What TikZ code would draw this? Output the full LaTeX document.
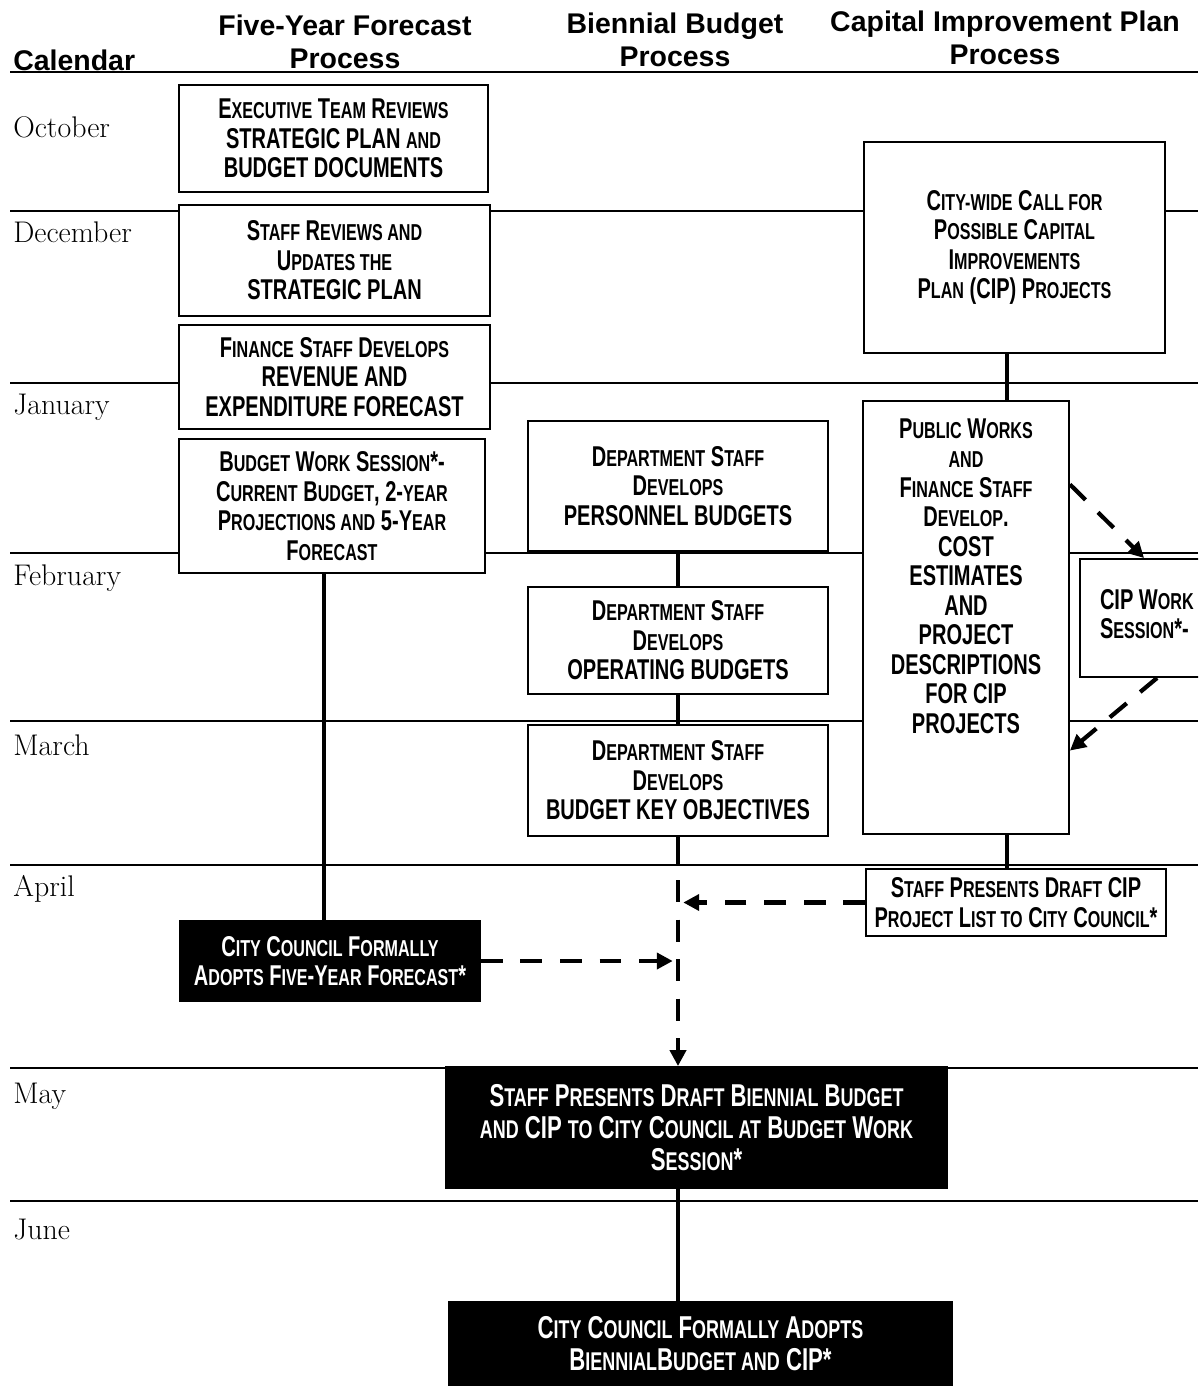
\documentclass[tikz,border=0pt]{standalone}
\usepackage{fontspec}
\setsansfont{Liberation Sans}
\newfontfamily\narrowfont{Liberation Sans Bold}[FakeStretch=0.70]
\usetikzlibrary{arrows.meta, positioning, calc}
\newcommand\sk[1]{{\fontsize{13.1}{16.8}\selectfont #1}}
\newcommand\skb[1]{{\fontsize{14.6}{18.2}\selectfont #1}}
\tikzset{
  stepbox/.style={rectangle, draw=black, line width=1.1pt, fill=white, align=center,
                  inner sep=0pt, font=\narrowfont\fontsize{16.3}{16.8}\selectfont},
  councilbox/.style={stepbox, fill=black, text=white},
  bigcouncil/.style={councilbox, font=\narrowfont\fontsize{18}{18.2}\selectfont},
  monthline/.style={line width=0.8pt},
  monthlabel/.style={anchor=base west, inner sep=0pt, font=\fontsize{17}{19}\selectfont},
  colhead/.style={align=center, inner sep=0pt, font=\sffamily\bfseries\fontsize{16.2}{18.7}\selectfont},
  link/.style={line width=2.6pt},
  dlink/.style={line width=2.4pt, dash pattern=on 12.5pt off 10pt,
                -{Triangle[length=9pt, width=9pt]}},
}

\begin{document}
\begin{tikzpicture}[x=0.02cm, y=-0.02cm]
  \useasboundingbox (0,0) rectangle (1198,1387);
  \clip (0,0) rectangle (1198,1387);

  % headings and month grid
  \node[colhead, anchor=base west] (calhead) at (13,70) {Calendar};
  \node[colhead] (fyfhead) at (345,42) {Five-Year Forecast\\Process};
  \node[colhead] (bbhead) at (675,40) {Biennial Budget\\Process};
  \node[colhead] (ciphead) at (1005,38) {Capital Improvement Plan\\Process};
  \draw[monthline] (10,72) -- (1198,72);
  \foreach \y in {211,383,553,721,865,1068,1201}
    \draw[monthline] (10,\y) -- (1198,\y);

  \node[monthlabel] (oct) at (13,137) {October};
  \node[monthlabel] (dec) at (13,242) {December};
  \node[monthlabel] (jan) at (13,414) {January};
  \node[monthlabel] (feb) at (13,585) {February};
  \node[monthlabel] (mar) at (13,755) {March};
  \node[monthlabel] (apr) at (13,896) {April};
  \node[monthlabel] (may) at (13,1103) {May};
  \node[monthlabel] (jun) at (13,1239) {June};

  % five-year forecast column
  \node[stepbox, minimum width=6.18cm, minimum height=2.14cm] (execrev) at (333.5,138.5)
    {E\sk{XECUTIVE} T\sk{EAM} R\sk{EVIEWS}\\STRATEGIC PLAN \sk{AND}\\BUDGET DOCUMENTS};
  \node[stepbox, minimum width=6.22cm, minimum height=2.22cm] (planupd) at (334.5,260.5)
    {S\sk{TAFF} R\sk{EVIEWS AND}\\U\sk{PDATES THE}\\STRATEGIC PLAN};
  \node[stepbox, minimum width=6.22cm, minimum height=2.08cm] (revfc) at (334.5,377)
    {F\sk{INANCE} S\sk{TAFF} D\sk{EVELOPS}\\REVENUE AND\\EXPENDITURE FORECAST};
  \node[stepbox, minimum width=6.12cm, minimum height=2.68cm] (budws) at (332,506)
    {B\sk{UDGET} W\sk{ORK} S\sk{ESSION}*-\\C\sk{URRENT} B\sk{UDGET}, 2-\sk{YEAR}\\P\sk{ROJECTIONS AND} 5-Y\sk{EAR}\\F\sk{ORECAST}};
  \node[councilbox, minimum width=6.0cm, minimum height=1.6cm] (fyfadopt) at (330,961)
    {C\sk{ITY} C\sk{OUNCIL} F\sk{ORMALLY}\\A\sk{DOPTS} F\sk{IVE}-Y\sk{EAR} F\sk{ORECAST}*};

  % biennial budget column
  \node[stepbox, minimum width=6.0cm, minimum height=2.6cm] (persbud) at (678,486)
    {D\sk{EPARTMENT} S\sk{TAFF}\\D\sk{EVELOPS}\\PERSONNEL BUDGETS};
  \node[stepbox, minimum width=6.0cm, minimum height=2.14cm] (opbud) at (678,640.5)
    {D\sk{EPARTMENT} S\sk{TAFF}\\D\sk{EVELOPS}\\OPERATING BUDGETS};
  \node[stepbox, minimum width=6.0cm, minimum height=2.22cm] (keyobj) at (678,780.5)
    {D\sk{EPARTMENT} S\sk{TAFF}\\D\sk{EVELOPS}\\BUDGET KEY OBJECTIVES};
  \node[bigcouncil, minimum width=10.02cm, minimum height=2.42cm] (draftbud) at (696.5,1127.5)
    {S\skb{TAFF} P\skb{RESENTS} D\skb{RAFT} B\skb{IENNIAL} B\skb{UDGET}\\\skb{AND} CIP \skb{TO} C\skb{ITY} C\skb{OUNCIL AT} B\skb{UDGET} W\skb{ORK}\\S\skb{ESSION}*};
  \node[bigcouncil, minimum width=10.06cm, minimum height=1.66cm] (budadopt) at (700.5,1343.5)
    {C\skb{ITY} C\skb{OUNCIL} F\skb{ORMALLY} A\skb{DOPTS}\\B\skb{IENNIAL}B\skb{UDGET AND} CIP*};

  % capital improvement plan column
  \node[stepbox, minimum width=6.02cm, minimum height=4.22cm] (cipcall) at (1014.5,247.5)
    {C\sk{ITY-WIDE} C\sk{ALL FOR}\\P\sk{OSSIBLE} C\sk{APITAL}\\I\sk{MPROVEMENTS}\\P\sk{LAN} (CIP) P\sk{ROJECTS}};
  \node[stepbox, minimum width=4.12cm, minimum height=8.66cm, text depth=1.67cm] (cipcost) at (966,617.5)
    {P\sk{UBLIC} W\sk{ORKS}\\\sk{AND}\\F\sk{INANCE} S\sk{TAFF}\\D\sk{EVELOP}.\\COST\\ESTIMATES\\AND\\PROJECT\\DESCRIPTIONS\\FOR CIP\\PROJECTS};
  \node[stepbox, minimum width=4.0cm, minimum height=2.36cm, text width=3.2cm, inner xsep=0.4cm,
        align=flush left, text depth=0.76cm] (cipws) at (1180,618)
    {CIP W\sk{ORK}\\S\sk{ESSION}*-};
  \node[stepbox, minimum width=6.0cm, minimum height=1.34cm] (cipdraft) at (1016,902.5)
    {S\sk{TAFF} P\sk{RESENTS} D\sk{RAFT} CIP\\P\sk{ROJECT} L\sk{IST TO} C\sk{ITY} C\sk{OUNCIL}*};

  % connectors
  \coordinate (aprsolid) at (678,865);
  \coordinate (aprdash) at (678,880);
  \draw[link] ([xshift=-0.16cm]budws.south) -- ([xshift=-0.16cm]budws.south |- fyfadopt.north);
  \draw[link] (persbud) -- (opbud);
  \draw[link] (opbud) -- (keyobj);
  \draw[link] (keyobj.south) -- (aprsolid);
  \draw[dlink] (aprdash) -- (aprdash |- draftbud.north);
  \draw[dlink, shorten >=3pt] (cipdraft.west) -- (cipdraft.west -| aprdash);
  \draw[dlink, shorten >=3pt] (fyfadopt.east) -- (fyfadopt.east -| aprdash);
  \draw[link] (draftbud.south -| aprdash) -- (budadopt.north -| aprdash);
  \draw[link] ([xshift=-0.15cm]cipcall.south) -- ([xshift=-0.15cm]cipcall.south |- cipcost.north);
  \draw[link] ([xshift=-0.18cm]cipdraft.north |- cipcost.south) -- ([xshift=-0.18cm]cipdraft.north);
  \draw[dlink] (cipcost.52) -- ($(cipws.north west)+(65,0)$);
  \draw[dlink] ($(cipws.south west)+(78,0)$) -- (cipcost.-52.5);
\end{tikzpicture}
\end{document}
